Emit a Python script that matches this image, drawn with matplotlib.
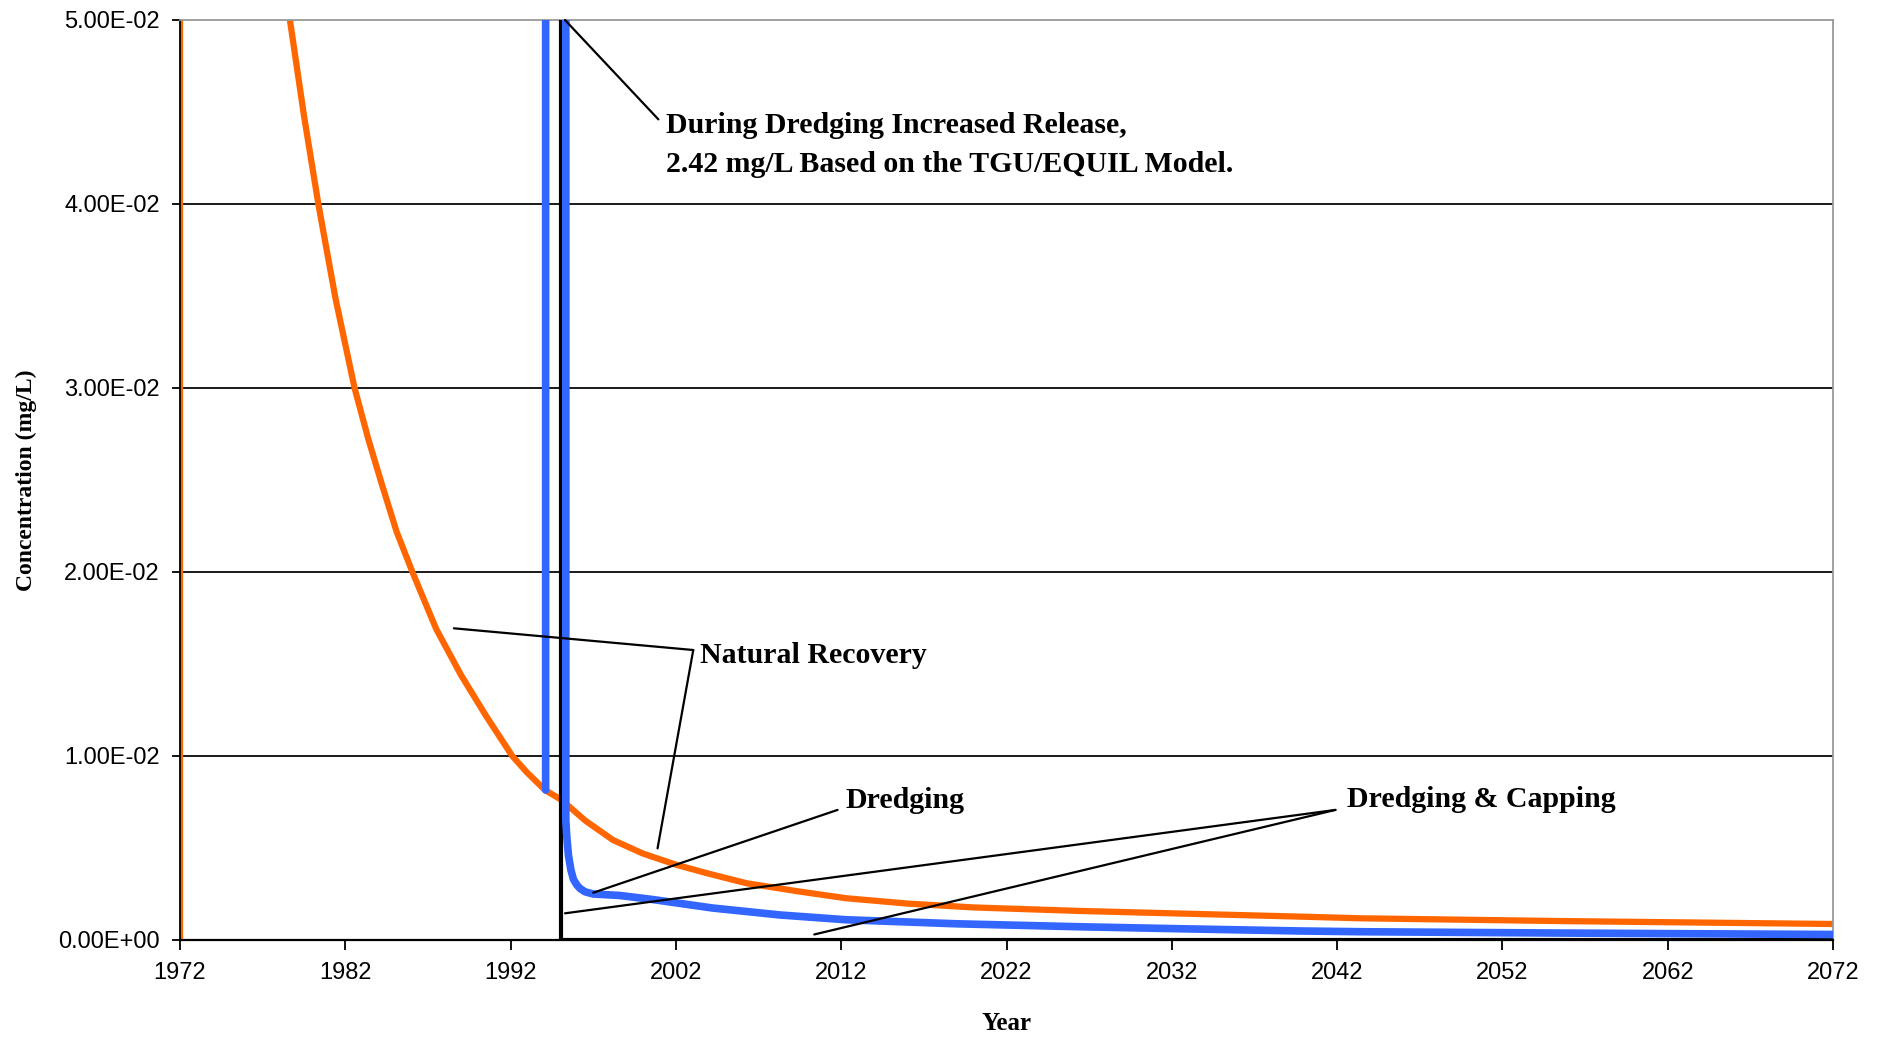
import matplotlib
matplotlib.use("Agg")
import matplotlib.pyplot as plt

# Natural Recovery (orange)
nr_year = [1972.0, 1972.0, 1974.0, 1975.5, 1977.0, 1978.0, 1978.65, 1979.5, 1980.37,
           1981.4, 1982.56, 1983.4, 1984.2, 1985.1, 1986.06, 1987.5, 1989.0, 1990.5,
           1992.1, 1993.0, 1994.08, 1995.09, 1996.5, 1998.2, 2000.0, 2002.05, 2004.0,
           2006.3, 2009.5, 2012.3, 2016.0, 2020.0, 2026.4, 2032.0, 2039.8, 2043.4,
           2055.5, 2072.0]
nr_conc = [0.0, 0.118, 0.092, 0.077, 0.064, 0.056, 0.050, 0.0448, 0.040,
           0.0349, 0.030, 0.0272, 0.0248, 0.0222, 0.020, 0.0169, 0.0144, 0.0122,
           0.0100, 0.0091, 0.00815, 0.00761, 0.0065, 0.00543, 0.0047, 0.00408, 0.0036,
           0.00308, 0.00263, 0.00227, 0.00198, 0.00177, 0.00158, 0.00145, 0.00127, 0.00118,
           0.00103, 0.00087]

# Dredging (blue)
dr_year = [1994.12, 1994.12, 1995.34, 1995.34, 1995.4, 1995.5, 1995.65, 1995.8, 1996.0,
           1996.2, 1996.5, 1997.0, 1998.6, 2000.6, 2004.2, 2008.3, 2012.3, 2019.0,
           2026.4, 2032.0, 2039.8, 2043.4, 2055.0, 2072.0]
dr_conc = [0.00815, 2.42, 2.42, 0.0065, 0.0056, 0.0046, 0.0038, 0.0033, 0.0030,
           0.0028, 0.00262, 0.0025, 0.00242, 0.0022, 0.00174, 0.00136, 0.0011, 0.00088,
           0.00072, 0.00062, 0.00049, 0.00045, 0.00038, 0.0003]

# Dredging & Capping (black)
dc_year = [1995.05, 1995.05, 2072.0]
dc_conc = [2.42, 0.0, 0.0]

x_ticks = [1972, 1982, 1992, 2002, 2012, 2022, 2032, 2042, 2052, 2062, 2072]
y_ticks = [0.0, 0.01, 0.02, 0.03, 0.04, 0.05]
y_tick_labels = ["0.00E+00", "1.00E-02", "2.00E-02", "3.00E-02", "4.00E-02", "5.00E-02"]

serif = "Liberation Serif"
sans = "Liberation Sans"

fig = plt.figure(figsize=(18.85, 10.37), dpi=100)
ax = fig.add_axes([180 / 1885, 97 / 1037, 1653 / 1885, 920 / 1037])

ax.set_xlim(1972, 2072)
ax.set_ylim(0, 0.05)

for yv in y_ticks[1:-1]:
    ax.axhline(yv, color="#1a1a1a", lw=1.4, zorder=1)

ax.plot(nr_year, nr_conc, color="#ff6600", lw=4.5, zorder=2, solid_capstyle="butt")
ax.plot(dc_year, dc_conc, color="black", lw=3, zorder=3, solid_joinstyle="miter")
ax.plot(dr_year, dr_conc, color="#3366ff", lw=5.5, zorder=4, solid_capstyle="round")

ax.set_xticks(x_ticks)
ax.set_xticklabels([str(t) for t in x_ticks], fontfamily=sans, fontsize=17)
ax.set_yticks(y_ticks)
ax.set_yticklabels(y_tick_labels, fontfamily=sans, fontsize=17)
ax.tick_params(axis="y", direction="out", length=6, width=1.3, pad=8.5)
ax.tick_params(axis="x", direction="out", length=7, width=1.3, pad=9)

for side in ["top", "right"]:
    ax.spines[side].set_color("#999999")
    ax.spines[side].set_linewidth(1.3)
ax.spines["bottom"].set_linewidth(1.6)
ax.spines["left"].set_linewidth(1.3)

# leader lines
lead = dict(arrowstyle="-", lw=1.6, color="black", shrinkA=0, shrinkB=0)
ax.annotate("", xy=(1995.29, 0.05), xytext=(2000.94, 0.0446), arrowprops=lead,
            annotation_clip=False, zorder=6)
ax.annotate("", xy=(1988.57, 0.01694), xytext=(2003.05, 0.01576), arrowprops=lead, zorder=6)
ax.annotate("", xy=(2000.89, 0.00498), xytext=(2003.05, 0.01576), arrowprops=lead, zorder=6)
ax.annotate("", xy=(1997.0, 0.00257), xytext=(2011.78, 0.00707), arrowprops=lead, zorder=6)
ax.annotate("", xy=(1995.29, 0.00145), xytext=(2041.9, 0.00707), arrowprops=lead, zorder=6)
ax.annotate("", xy=(2010.37, 0.0003), xytext=(2041.9, 0.00707), arrowprops=lead, zorder=6)

lab = dict(fontfamily=serif, fontweight="bold", fontsize=21.5, va="baseline", ha="left", zorder=7)
ax.text(2001.43, 0.04386, "During Dredging Increased Release,", **lab)
ax.text(2001.43, 0.04174, "2.42 mg/L Based on the TGU/EQUIL Model.", **lab)
ax.text(2003.48, 0.01504, "Natural Recovery", **lab)
ax.text(2012.23, 0.00717, "Dredging", **lab)
ax.text(2042.6, 0.00723, "Dredging & Capping", **lab)

fig.text(26 / 1885, 1 - 480 / 1037, "Concentration (mg/L)", rotation=90,
         ha="center", va="center", fontfamily=serif, fontweight="bold", fontsize=17)
fig.text(1006 / 1885, 1 - 1023 / 1037, "Year", ha="center", va="center",
         fontfamily=serif, fontweight="bold", fontsize=18)

fig.savefig("out.png", dpi=100)
